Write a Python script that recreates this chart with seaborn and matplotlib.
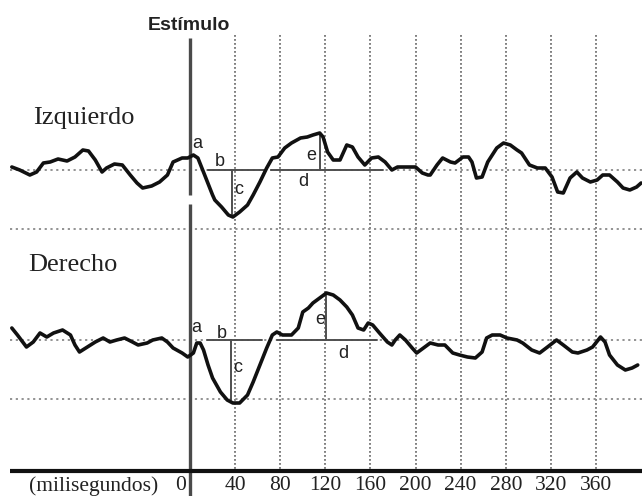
import matplotlib
matplotlib.use("Agg")
import matplotlib.pyplot as plt
import numpy as np
import pandas as pd
import seaborn as sns

# Evoked response, left eye (time in ms relative to stimulus, amplitude in display units)
left_ms = [-158, -151, -142, -136, -130, -124, -117, -109, -102, -95, -90, -84, -78, -74,
           -67, -60, -53, -47, -42, -34, -27, -20, -15, -7, -2, 3, 7, 13, 20, 22, 28, 34,
           38, 44, 51, 56, 62, 68, 73, 78, 84, 90, 98, 104, 109, 115, 118, 122, 127, 133,
           139, 144, 149, 155, 161, 167, 173, 179, 184, 193, 200, 206, 211, 213, 219, 224,
           231, 235, 242, 247, 250, 254, 259, 264, 272, 278, 284, 290, 294, 301, 308, 315,
           321, 326, 331, 337, 343, 348, 355, 361, 366, 372, 379, 384, 390, 396, 400]
left_amp = [3, 0, -5, -2, 7, 8, 11, 9, 13, 20, 19, 10, -2, 2,
            6, 5, -5, -13, -18, -16, -12, -5, 8, 12, 12, 15, 12, -5, -25, -30, -37, -45,
            -47, -42, -35, -25, -12, 2, 12, 13, 22, 27, 32, 33, 35, 37, 33, 18, 10, 10,
            25, 23, 13, 5, 12, 13, 8, 0, 3, 3, 3, -3, -5, -5, 5, 12,
            8, 7, 13, 13, 8, -8, -7, 8, 22, 27, 25, 20, 17, 5, 2, 2,
            -7, -22, -23, -8, -2, -8, -12, -10, -5, -5, -12, -18, -20, -17, -13]

# Evoked response, right eye
right_ms = [-158, -153, -145, -139, -133, -127, -121, -113, -106, -102, -98, -91, -84, -77,
            -71, -65, -58, -51, -46, -38, -33, -25, -20, -15, -7, -2, 3, 6, 9, 12, 16, 20,
            27, 33, 38, 44, 51, 56, 62, 68, 73, 77, 82, 90, 96, 100, 105, 109, 115, 121,
            127, 133, 139, 144, 149, 154, 158, 162, 168, 175, 179, 182, 186, 191, 197, 201,
            207, 213, 220, 226, 233, 239, 246, 253, 259, 263, 268, 275, 281, 290, 295, 303,
            310, 317, 325, 331, 339, 344, 352, 357, 364, 368, 372, 379, 386, 392, 397]
right_amp = [12, 5, -7, -2, 7, 3, 7, 10, 5, -5, -12, -7, -2, 2,
             -2, 0, 2, -2, -5, -3, 0, 2, -2, -8, -13, -17, -13, -3, -3, -10, -25, -38,
             -52, -60, -63, -63, -55, -42, -25, -8, 5, 8, 5, 5, 12, 28, 32, 37, 42, 47,
             45, 40, 33, 25, 12, 10, 17, 15, 7, -2, -5, 0, 5, 0, -8, -13,
             -8, -3, -5, -5, -13, -15, -17, -18, -12, 2, 5, 5, 2, 0, -3, -10,
             -13, -7, 0, -5, -12, -13, -10, -7, 3, -2, -15, -25, -30, -28, -25]

trace_names = ["Izquierdo", "Derecho"]
tick_ms = [0, 40, 80, 120, 160, 200, 240, 280, 320, 360]
tick_labels = [str(t) for t in tick_ms]
time_unit = "(milisegundos)"
stimulus_label = "Estímulo"

# Component markers per trace: latency of the negative trough (c) and positive peak (e)
trough_ms = [37, 36]
trough_amp = [-46, -60]
peak_ms = [115, 121]
peak_amp = [37, 45]

sns.set_theme(style="white")
plt.rcParams["font.family"] = ["Liberation Serif", "DejaVu Serif"]

W, H = 642, 496
fig = plt.figure(figsize=(W / 100, H / 100), dpi=100)
ax = fig.add_axes([0, 0, 1, 1])

# pixel-aligned frame: x in ms, y in display units (0 at top, negative downward)
px_per_ms = 406 / 360
x0_px = 190
ax.set_xlim(-x0_px / px_per_ms, (W - x0_px) / px_per_ms)
ax.set_ylim(-H, 0)
ax.axis("off")

def px(x):
    return (x - x0_px) / px_per_ms

offsets = [-170, -340]
x_left, x_right = px(10), px(642)

# dotted time grid
grid_kw = dict(color="#6a6a6a", lw=1.2, ls=(0, (1.1, 1.3)), zorder=1)
for t in tick_ms[1:]:
    ax.plot([t, t], [-35, -471], **grid_kw)

# dotted reference levels for each trace
href_kw = dict(color="#8a8a8a", lw=1.3, ls=(0, (1.2, 2.0)), zorder=1)
for off in offsets:
    ax.plot([x_left, x_right], [off, off], **href_kw)
    ax.plot([x_left, x_right], [off - 59, off - 59], **href_kw)

# stimulus onset line
stim_kw = dict(color="#4a4a4a", lw=2.4, solid_capstyle="butt", zorder=3)
ax.plot([0, 0], [-38, -195], **stim_kw)
ax.plot([0, 0], [-204, -496], **stim_kw)
ax.text(px(189), -25, stimulus_label, ha="center", va="center", fontsize=14,
        fontweight="bold", family=["Liberation Sans", "DejaVu Sans"], color="#222222")

# traces
df = pd.concat([
    pd.DataFrame({"ms": left_ms, "amp": np.array(left_amp) + offsets[0],
                  "trace": trace_names[0]}),
    pd.DataFrame({"ms": right_ms, "amp": np.array(right_amp) + offsets[1],
                  "trace": trace_names[1]}),
])
sns.lineplot(data=df, x="ms", y="amp", hue="trace", units="trace", estimator=None,
             sort=False, palette=["#111111", "#111111"], lw=2.6, legend=False, ax=ax,
             zorder=5)
for line in ax.lines[-2:]:
    line.set_solid_joinstyle("round")
    line.set_solid_capstyle("round")

# component markers
mark_kw = dict(color="#4f4f4f", lw=1.4, zorder=4)
letter_kw = dict(ha="center", va="center", fontsize=13,
                 family=["Liberation Sans", "DejaVu Sans"], color="#222222", zorder=6)
b_spans = [(16, 67), (15, 64)]
d_spans = [(72, 171), (77, 166)]
letters = [
    {"a": (197, 143), "b": (220, 161), "c": (239, 190), "d": (303, 182), "e": (311, 155)},
    {"a": (196, 327), "b": (222, 334), "c": (238, 368), "d": (343, 353), "e": (320, 320)},
]
for i, off in enumerate(offsets):
    ax.plot(list(b_spans[i]), [off, off], **mark_kw)
    ax.plot(list(d_spans[i]), [off, off], **mark_kw)
    ax.plot([trough_ms[i], trough_ms[i]], [off, off + trough_amp[i]], **mark_kw)
    ax.plot([peak_ms[i], peak_ms[i]], [off, off + peak_amp[i]], **mark_kw)
    for k, (lx, ly) in letters[i].items():
        ax.text(px(lx), -ly, k, **letter_kw)

# trace titles
ax.text(px(33), -118, trace_names[0], ha="left", va="center", fontsize=19, color="#222222")
ax.text(px(28), -265, trace_names[1], ha="left", va="center", fontsize=19, color="#222222")

# time axis
ax.plot([x_left, x_right], [-471, -471], color="#111111", lw=3, solid_capstyle="butt", zorder=6)
tick_kw = dict(ha="center", va="center", fontsize=15.5, color="#222222")
for t, lab in zip(tick_ms, tick_labels):
    if t == 0:
        ax.text(px(181), -486, lab, **tick_kw)
    else:
        ax.text(t, -486, lab, **tick_kw)
ax.text(px(158), -486, time_unit, ha="right", va="center", fontsize=15.5, color="#222222")

fig.savefig("out.png", dpi=100, facecolor="white")
